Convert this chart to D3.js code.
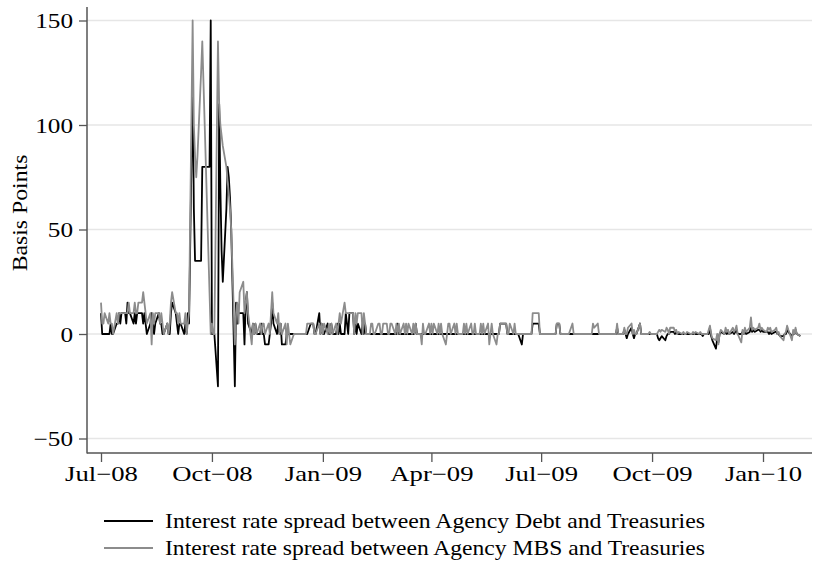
<!DOCTYPE html>
<html><head><meta charset="utf-8">
<script src="https://cdn.jsdelivr.net/npm/d3@7"></script>
<style>
body{margin:0;background:#fff}
svg{display:block}
text{font-family:"Liberation Serif","Times New Roman",serif;fill:#000}
</style>
</head><body><svg id="c" width="814" height="564"></svg>
<script>
// ---------- DATA ----------
const seriesNames = [
  "Interest rate spread between Agency Debt and Treasuries",
  "Interest rate spread between Agency MBS and Treasuries"
];
const yAxisTitle = "Basis Points";
const yTicks = [-50, 0, 50, 100, 150];
const xTickDates = ["2008-07-01","2008-10-01","2009-01-01","2009-04-01","2009-07-01","2009-10-01","2010-01-01"];
const firstDate = "2008-07-01"; // observations are business days from this date

// Agency Debt spread (bp), one value per business day
const agencyDebt = [
  10,0,0,0,
  0,0,5,0,0,  5,5,10,5,10,  10,5,15,10,10,  5,10,5,10,10,  10,5,10,5,0,
  5,10,5,0,5,  10,5,5,0,0,  5,0,0,10,15,  10,5,0,5,5,  0,5,0,10,5,
  120,60,35,35,35,  35,80,80,80,80,  80,150,0,0,0,  -25,110,70,40,25,  60,80,75,65,50,
  -25,15,5,10,10,  10,-5,15,20,5,  0,5,0,5,0,  0,5,0,0,-5,  -5,0,5,15,5,
  0,5,0,5,-5,  -5,0,0,0,0,  0,0,0,0,0,  0,0,0,0,0,  5,5,5,0,0,
  10,0,5,0,0,  5,0,0,5,0,  0,5,0,5,0,  0,10,5,0,10,  10,0,5,0,5,
  0,5,0,5,0,  0,0,0,0,0,  0,0,0,0,0,  0,0,0,0,0,  0,0,5,0,0,
  0,0,0,0,0,  0,0,0,5,0,  0,0,0,0,0,  0,0,0,0,0,  0,0,0,0,0,
  0,0,0,0,0,  0,0,0,0,0,  0,0,0,0,0,  0,0,0,0,0,  0,0,0,0,0,
  0,0,0,0,0,  0,0,0,5,5,  5,5,0,0,0,  0,0,0,0,0,  -5,0,0,0,0,
  0,0,5,5,5,  5,0,0,0,0,  0,0,0,0,0,  0,5,5,5,0,  0,0,0,0,0,
  0,0,0,0,0,  0,0,0,0,0,  0,0,0,0,0,  0,0,0,0,0,  0,0,0,0,0,
  0,0,3,0,0,  0,2,0,-2,0,  3,0,-2,0,0,  5,0,0,0,0,  0,0,0,0,0,
  0,-2,-3,-2,-1,  -3,-1,0,0,1,  1,0,1,0,0,  0,0,0,0,0,  0,0,0,0,0,
  0,0,0,-1,0,  0,0,3,-1,-3,  -7,-2,-4,0,1,  0,1,0,1,0,  1,0,1,2,0,
  0,1,0,2,0,  1,3,1,2,1,  2,2,1,2,1,  1,1,0,1,0,  1,1,0,0,-1,
  -1,0,0,2,1,  -1,0,0,2,0,  -1
];

// Agency MBS spread (bp), one value per business day
const agencyMBS = [
  15,5,5,10,
  5,10,5,5,0,  10,5,10,10,10,  10,10,10,15,10,  10,15,10,10,15,  15,20,15,10,5,
  10,-5,10,5,10,  10,5,10,5,0,  5,0,5,15,20,  10,10,5,10,5,  5,10,0,5,10,
  150,100,85,75,85,  125,140,120,100,80,  20,0,5,0,0,  140,110,100,95,90,  80,73,67,60,50,
  -5,10,15,5,20,  25,10,15,20,10,  -5,5,0,5,0,  5,0,5,5,0,  5,0,10,20,10,
  5,10,0,5,0,  5,-5,5,0,-5,  0,0,0,0,0,  0,0,0,0,5,  5,5,5,0,0,
  5,0,5,0,5,  0,5,0,5,0,  5,0,5,10,5,  15,10,10,10,10,  10,0,10,5,10,
  10,0,10,5,0,  0,5,5,0,0,  5,5,0,0,5,  5,0,0,5,5,  0,5,0,5,0,
  5,0,5,0,5,  0,5,0,5,0,  0,-5,5,0,0,  5,0,5,0,5,  0,5,0,5,0,
  -5,0,5,5,0,  5,0,5,0,0,  0,5,0,5,0,  5,0,0,5,0,  0,5,0,5,0,
  5,-5,0,5,0,  -5,0,0,5,5,  5,5,0,0,5,  0,5,0,0,0,  0,0,0,0,0,
  0,0,10,10,10,  10,0,0,0,0,  0,0,0,0,0,  0,5,5,5,0,  0,0,0,0,0,
  5,0,0,0,0,  0,0,0,0,0,  0,0,0,5,3,  5,0,0,0,0,  0,0,0,0,0,
  0,0,5,0,0,  0,3,0,0,3,  5,0,2,0,0,  5,0,0,0,0,  0,1,0,0,0,
  0,1,2,1,2,  1,3,2,0,3,  3,1,2,0,1,  0,1,0,0,1,  0,0,1,0,1,
  0,1,0,0,0,  0,2,4,0,-2,  -3,0,-5,0,2,  0,3,1,2,0,  3,1,2,4,0,
  -4,2,0,3,1,  3,8,2,3,2,  3,5,2,3,2,  1,3,2,3,1,  2,3,0,1,-1,
  -3,0,1,4,2,  -3,2,0,3,0,  -1
];

// ---------- CHART ----------
const parse = d3.timeParse("%Y-%m-%d");
function businessDays(start, n) {
  const out = [];
  let d = parse(start);
  while (out.length < n) {
    const wd = d.getDay();
    if (wd !== 0 && wd !== 6) out.push(new Date(d));
    d = d3.timeDay.offset(d, 1);
  }
  return out;
}
const dates = businessDays(firstDate, Math.max(agencyDebt.length, agencyMBS.length));

const W = 814, H = 564;
const plot = {left: 87, right: 812, top: 7, bottom: 453};
const svg = d3.select("#c");
svg.append("rect").attr("width", W).attr("height", H).attr("fill", "#fff");

const x = d3.scaleTime().domain([parse("2008-07-01"), parse("2010-01-01")]).range([101, 763]);
const y = d3.scaleLinear().domain([-50, 150]).range([438.5, 20.5]);

// gridlines
svg.append("g").selectAll("line").data(yTicks).join("line")
  .attr("x1", plot.left).attr("x2", plot.right)
  .attr("y1", d => y(d)).attr("y2", d => y(d))
  .attr("stroke", "#e6e6e6").attr("stroke-width", 1.3);

const fmtNum = d => d < 0 ? "\u2212" + Math.abs(d) : String(d);
const axisColor = "#555";

// y axis
const gy = svg.append("g").attr("transform", `translate(${plot.left},0)`)
  .call(d3.axisLeft(y).tickValues(yTicks).tickSize(8).tickPadding(6).tickFormat(fmtNum));
gy.select(".domain").remove();
gy.selectAll(".tick line").attr("stroke", axisColor).attr("stroke-width", 1.3);
gy.selectAll(".tick text").attr("font-size", 21).attr("font-family", null).attr("fill", "#000")
  .attr("dy", "0.35em")
  .each(function() { const w = this.getComputedTextLength(); d3.select(this).attr("textLength", w * 1.2).attr("lengthAdjust", "spacingAndGlyphs"); });

// x axis
const gx = svg.append("g").attr("transform", `translate(0,${plot.bottom})`)
  .call(d3.axisBottom(x).tickValues(xTickDates.map(parse)).tickSize(9).tickPadding(6)
    .tickFormat(d3.timeFormat("%b\u2212%y")));
gx.select(".domain").remove();
gx.selectAll(".tick line").attr("stroke", axisColor).attr("stroke-width", 1.3);
gx.selectAll(".tick text").attr("font-size", 21).attr("font-family", null).attr("fill", "#000")
  .attr("dy", null).attr("y", 28)
  .each(function() { const w = this.getComputedTextLength(); d3.select(this).attr("textLength", w * 1.27).attr("lengthAdjust", "spacingAndGlyphs"); });

// axis lines
svg.append("line").attr("x1", plot.left).attr("x2", plot.left).attr("y1", plot.top).attr("y2", plot.bottom + 0.5)
  .attr("stroke", axisColor).attr("stroke-width", 1.5);
svg.append("line").attr("x1", plot.left).attr("x2", plot.right).attr("y1", plot.bottom).attr("y2", plot.bottom)
  .attr("stroke", axisColor).attr("stroke-width", 1.5);

// y axis title
svg.append("text").attr("transform", "translate(27,213) rotate(-90)")
  .attr("text-anchor", "middle").attr("font-size", 21).text(yAxisTitle)
  .each(function() { const w = this.getComputedTextLength(); d3.select(this).attr("textLength", w * 1.13).attr("lengthAdjust", "spacingAndGlyphs"); });

// lines
const colors = ["#000000", "#8c8c8c"];
const series = [agencyDebt, agencyMBS];
const line = d3.line().x(d => x(d[0])).y(d => y(d[1]));
series.forEach((vals, i) => {
  svg.append("path")
    .datum(vals.map((v, j) => [dates[j], v]))
    .attr("fill", "none").attr("stroke", colors[i]).attr("stroke-width", 1.8)
    .attr("stroke-linejoin", "round")
    .attr("d", line);
});

// legend
const legendY = [521, 548];
seriesNames.forEach((name, i) => {
  svg.append("line").attr("x1", 104).attr("x2", 153).attr("y1", legendY[i]).attr("y2", legendY[i])
    .attr("stroke", colors[i]).attr("stroke-width", 2);
  svg.append("text").attr("x", 165).attr("y", legendY[i] + 7).attr("font-size", 21).text(name)
    .each(function() { const w = this.getComputedTextLength(); d3.select(this).attr("textLength", 540).attr("lengthAdjust", "spacingAndGlyphs"); });
});
</script>
</body></html>
